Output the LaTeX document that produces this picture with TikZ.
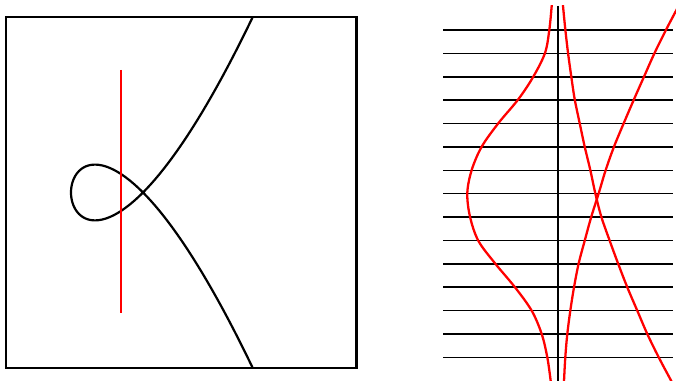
\documentclass[tikz,border=0pt]{standalone}
\usepackage{tikz}
\usetikzlibrary{calc}

\begin{document}
\begin{tikzpicture}[
    x=0.02cm, y=-0.02cm,
    frame/.style={line width=1.45pt, black},
    curve/.style={line width=1.25pt, black},
    cut/.style={line width=1.25pt, red},
    hline/.style={line width=0.85pt, black},
    vline/.style={line width=0.75pt, black},
    root/.style={line width=1.3pt, red, smooth, tension=0.55}
]
\useasboundingbox (0,0) rectangle (676,381);

% ============================================================
% PANEL IZQUIERDO
% ============================================================

% Marco
\draw[frame] (6,17) rectangle (356.5,368);

% Cubica nodal
\draw[curve, domain=-1.6:1.6, samples=120, smooth, variable=\m]
    plot ({143 + 71.07*\m*\m - 72}, {192.5 - \m*(71.07*\m*\m - 72)});

% Recta vertical
\draw[cut] (121,70) -- (121,313);

% ============================================================
% PANEL DERECHO
% ============================================================

% Rectas horizontales
\foreach \i in {0,...,14}
    \draw[hline] (443,{30+23.38*\i}) -- (673,{30+23.38*\i});

% Eje vertical
\draw[vline] (558,6) -- (558,381);

\begin{scope}
\clip (430,6) rectangle (676,381);

% Raiz izquierda
\draw[root] plot coordinates {
    (552.2,0) (551.7,6) (549.3,30) (545,53) (533.3,76.7) (518.3,99.3)
    (498.3,123.3) (481.7,146.7) (471.7,170) (467.3,193) (470,216.7)
    (478.3,240.7) (495,263.3) (515,287.3) (531.7,310.7) (541.7,334)
    (547.3,357.3) (550.7,381) (551.2,387)};

% Raiz central
\draw[root] plot coordinates {
    (562.5,0) (563,6) (565.3,29.3) (568,52.7) (571.3,76.7) (574.7,99.3)
    (579.7,123.3) (584.7,146.7) (590.3,170) (595.3,193.3) (601.3,216.7)
    (609.7,240.7) (618,263.3) (627.3,287.3) (637.3,310.7) (647.3,334)
    (658.7,357.3) (671.3,381) (674.5,387)};

% Raiz derecha
\draw[root] plot coordinates {
    (681.7,0) (674.7,13.3) (666.3,29.3) (654.7,52.7) (644,76.7) (634,99.3)
    (623.7,123.3) (614,146.7) (605.7,170) (598.7,193.3) (591.3,216.7)
    (584.7,240.7) (578.7,263.3) (574,287.3) (570.3,310.7) (567.3,334)
    (565.3,357.3) (564,381) (563.8,387)};
\end{scope}

\end{tikzpicture}
\end{document}
